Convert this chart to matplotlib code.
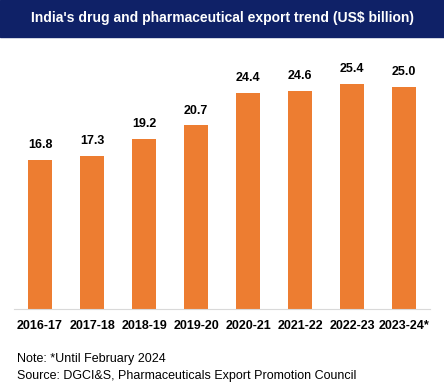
import matplotlib.pyplot as plt
from matplotlib.patches import Rectangle

years = ["2016-17", "2017-18", "2018-19", "2019-20",
         "2020-21", "2021-22", "2022-23", "2023-24*"]
exports = [16.8, 17.3, 19.2, 20.7, 24.4, 24.6, 25.4, 25.0]

title = "India's drug and pharmaceutical export trend (US$ billion)"
note = "Note: *Until February 2024"
source = "Source: DGCI&S, Pharmaceuticals Export Promotion Council"

plt.rcParams['font.family'] = ['Liberation Sans', 'DejaVu Sans']

W, H = 444, 388
fig = plt.figure(figsize=(W / 100, H / 100), dpi=100)

# Title banner
fig.patches.append(Rectangle((0, 1 - 37 / H), 1, 37 / H, transform=fig.transFigure,
                             color='#0f2167', zorder=0))
fig.text(0.5, 1 - 18 / H, title, color='white', fontsize=10, fontweight='bold',
         ha='center', va='center')

ax = fig.add_axes([14 / W, 1 - 309 / H, 416 / W, 266 / H])
x = range(len(years))
bars = ax.bar(x, exports, width=0.46, color='#ed7d31')
for b, v in zip(bars, exports):
    ax.text(b.get_x() + b.get_width() / 2, v + 1.0, f"{v:.1f}", ha='center',
            va='bottom', fontsize=9, fontweight='bold')

ax.set_xlim(-0.5, len(years) - 0.5)
ax.set_ylim(0, 30)
ax.set_xticks(list(x))
ax.set_xticklabels(years, fontsize=9, fontweight='bold')
ax.tick_params(axis='x', length=0, pad=8)
ax.set_yticks([])
for s in ['top', 'right', 'left']:
    ax.spines[s].set_visible(False)
ax.spines['bottom'].set_color('#d9d9d9')

fig.text(17 / W, 1 - 359 / H, note, fontsize=9, va='center')
fig.text(17 / W, 1 - 376 / H, source, fontsize=9, va='center')

fig.savefig('out.png', dpi=100)
